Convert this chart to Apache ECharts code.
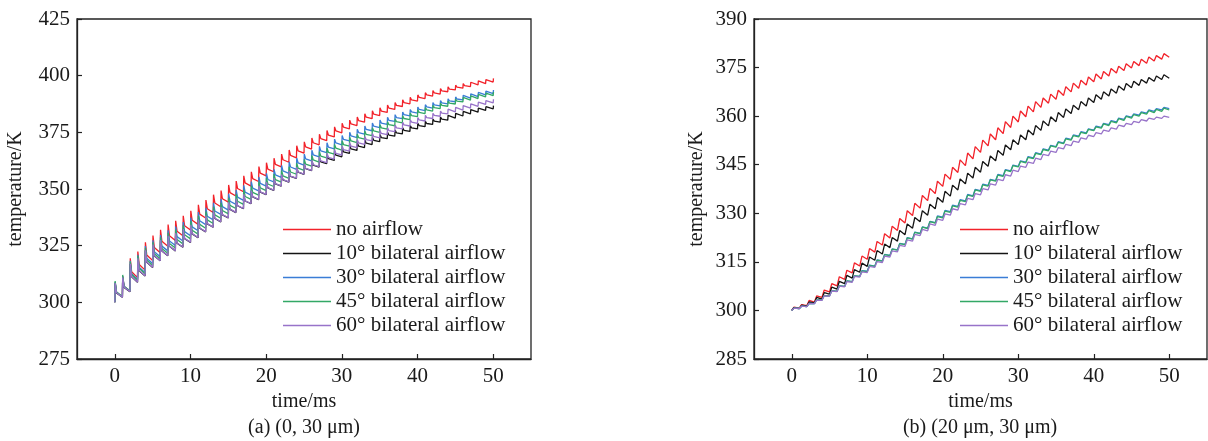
<!DOCTYPE html>
<html><head><meta charset="utf-8">
<script src="https://cdn.jsdelivr.net/npm/echarts@6/dist/echarts.min.js"></script>
<style>html,body{margin:0;padding:0;background:#fff}#c{width:1208px;height:441px}</style>
</head><body><div id="c"></div>
<script>
const seriesNames = ['no airflow','10° bilateral airflow','30° bilateral airflow','45° bilateral airflow','60° bilateral airflow'];
const seriesColors = ['#f2222a','#141414','#3a7dd6','#33a866','#9873c9'];
const xTicks = [0,10,20,30,40,50];
const captions = ['(a) (0, 30 μm)','(b) (20 μm, 30 μm)'];

// ---- Panel (a): value right after each pulse (t = 0..50), value shortly after (decay), value just before next pulse
const aPeakRed = [308.8,311.5,319.4,322.4,326.5,329.5,332,334.3,336,338.2,340.4,343,345.1,347.5,349.3,351.8,353.5,355.8,357.6,359.9,361.6,363.6,365.4,367.2,369.1,370.8,372.5,374.2,375.8,377.4,379,380.4,381.8,383.2,384.5,385.8,387,388.2,389.4,390.5,391.5,392.5,393.4,394.3,395.1,395.8,396.5,397.1,397.7,398.3,398.8];
const aMidRed = [304.4,307.0,313.5,316.7,320.9,324.2,326.9,329.4,331.4,333.8,336.2,338.9,341.3,343.8,345.7,348.4,350.2,352.7,354.6,357.0,358.8,360.9,362.9,364.8,366.8,368.6,370.4,372.2,373.8,375.6,377.3,378.7,380.2,381.7,383.0,384.4,385.7,386.9,388.1,389.3,390.4,391.5,392.4,393.3,394.1,394.9,395.6,396.3,396.9,397.5];
const aTroughRed = [302.5,305.0,310.9,314.2,318.5,321.9,324.7,327.3,329.4,331.9,334.4,337.2,339.6,342.2,344.2,346.9,348.8,351.3,353.3,355.8,357.6,359.8,361.8,363.7,365.8,367.6,369.5,371.3,373.0,374.8,376.5,378.0,379.5,381.0,382.4,383.8,385.1,386.4,387.6,388.8,389.9,391.0,391.9,392.9,393.7,394.5,395.2,395.9,396.5,397.2];
const aPeakBlack = [308.4,310.9,316.9,319.3,322.9,325.4,327.4,329.2,330.4,332.2,334.1,336.4,338.2,340.4,341.9,344.1,345.6,347.6,349.2,351.3,353.0,354.7,356.3,357.8,359.5,361.0,362.5,363.9,365.2,366.6,368.0,369.2,370.4,371.6,372.8,374.0,375.0,376.0,377.0,378.0,379.0,379.9,380.8,381.7,382.5,383.4,384.2,385.0,385.7,386.3,386.8];
const aMidBlack = [304.1,306.6,311.3,313.9,317.7,320.4,322.6,324.7,326.1,328.1,330.2,332.7,334.6,337.0,338.6,341.0,342.6,344.7,346.5,348.6,350.5,352.3,354.0,355.6,357.4,359.0,360.5,362.0,363.4,364.9,366.4,367.7,368.9,370.2,371.5,372.7,373.8,374.8,375.9,377.0,378.0,378.9,379.9,380.8,381.7,382.6,383.4,384.2,385.0,385.6];
const aTroughBlack = [302.2,304.7,308.9,311.6,315.4,318.3,320.6,322.7,324.3,326.4,328.5,331.1,333.1,335.5,337.2,339.6,341.3,343.5,345.3,347.5,349.4,351.3,353.0,354.7,356.5,358.1,359.7,361.2,362.6,364.2,365.7,367.0,368.3,369.6,370.9,372.2,373.3,374.3,375.4,376.5,377.5,378.5,379.5,380.4,381.3,382.2,383.1,383.9,384.7,385.3];
const aPeakBlue = [309.0,311.5,318.3,321.0,324.8,327.4,329.7,331.8,333.4,335.4,337.4,339.8,341.7,343.9,345.6,347.9,349.5,351.6,353.3,355.3,356.9,358.7,360.4,362.0,363.7,365.4,367.1,368.8,370.4,372.0,373.6,375.0,376.4,377.8,379.1,380.4,381.6,382.8,384.0,385.1,386.2,387.2,388.1,389.0,389.8,390.6,391.3,392.0,392.6,393.2,393.7];
const aMidBlue = [304.5,307.0,312.6,315.5,319.4,322.3,324.8,327.1,329.0,331.2,333.3,336.0,338.0,340.3,342.2,344.6,346.4,348.6,350.4,352.5,354.2,356.2,358.0,359.7,361.5,363.3,365.1,366.8,368.5,370.3,371.9,373.4,374.9,376.3,377.7,379.1,380.3,381.5,382.8,384.0,385.1,386.2,387.1,388.0,388.9,389.7,390.5,391.2,391.8,392.4];
const aTroughBlue = [302.5,305.0,310.1,313.1,317.1,320.1,322.7,325.1,327.1,329.4,331.6,334.3,336.4,338.8,340.7,343.2,345.0,347.3,349.2,351.3,353.1,355.1,356.9,358.7,360.5,362.4,364.2,366.0,367.7,369.5,371.2,372.7,374.2,375.7,377.1,378.5,379.8,381.0,382.3,383.5,384.6,385.7,386.7,387.6,388.5,389.3,390.1,390.8,391.5,392.1];
const aPeakGreen = [309.4,312.1,318.0,320.5,324.1,326.5,328.7,330.7,332.1,334.0,335.9,338.2,340.1,342.2,343.9,346.1,347.7,349.7,351.4,353.3,354.9,356.6,358.2,359.8,361.4,363.1,364.8,366.5,368.1,369.7,371.3,372.8,374.2,375.6,377.0,378.3,379.7,381.0,382.3,383.5,384.9,385.9,386.9,387.9,388.8,389.7,390.4,391.1,391.7,392.3,392.8];
const aMidGreen = [304.6,307.1,312.3,315.0,318.7,321.4,323.8,326.0,327.7,329.8,331.8,334.4,336.4,338.6,340.5,342.8,344.6,346.7,348.5,350.5,352.2,354.1,355.8,357.5,359.2,361.0,362.8,364.5,366.2,368.0,369.6,371.2,372.7,374.1,375.6,377.0,378.4,379.7,381.1,382.4,383.8,384.9,385.9,386.9,387.9,388.8,389.6,390.3,390.9,391.5];
const aTroughGreen = [302.5,305.0,309.8,312.6,316.4,319.2,321.7,324.0,325.8,328.0,330.1,332.7,334.8,337.1,339.0,341.4,343.2,345.4,347.3,349.3,351.1,353.0,354.7,356.5,358.2,360.1,361.9,363.7,365.4,367.2,368.9,370.5,372.0,373.5,375.0,376.4,377.9,379.2,380.6,381.9,383.3,384.4,385.5,386.5,387.5,388.4,389.2,389.9,390.6,391.2];
const aPeakPurple = [308.5,311.0,317.0,319.4,323.0,325.5,327.5,329.3,330.5,332.3,334.2,336.5,338.3,340.5,342.0,344.2,345.7,347.7,349.3,351.4,353.1,354.8,356.4,357.9,359.6,361.1,362.7,364.3,365.8,367.4,369.0,370.4,371.8,373.2,374.5,375.8,377.0,378.2,379.4,380.5,381.5,382.5,383.4,384.4,385.2,386.0,386.8,387.6,388.3,389.0,389.6];
const aMidPurple = [304.2,306.7,311.4,314.0,317.8,320.5,322.7,324.8,326.2,328.2,330.3,332.8,334.7,337.1,338.7,341.1,342.7,344.8,346.6,348.7,350.6,352.4,354.1,355.7,357.5,359.1,360.7,362.4,364.0,365.7,367.4,368.9,370.3,371.8,373.2,374.5,375.8,377.0,378.3,379.5,380.5,381.5,382.5,383.5,384.4,385.2,386.0,386.8,387.6,388.3];
const aTroughPurple = [302.3,304.8,309.0,311.7,315.5,318.4,320.7,322.8,324.4,326.5,328.6,331.2,333.2,335.6,337.3,339.7,341.4,343.6,345.4,347.6,349.5,351.4,353.1,354.8,356.6,358.2,359.9,361.6,363.2,365.0,366.7,368.2,369.7,371.2,372.6,374.0,375.3,376.5,377.8,379.0,380.0,381.1,382.1,383.1,384.0,384.8,385.7,386.5,387.3,388.0];

// ---- Panel (b): value at each pulse onset (t = 0..50) and top of each tooth (k = 0..49)
const bTroughRed = [300.0,300.7,301.5,302.6,304.0,305.7,307.6,309.6,311.6,313.7,315.8,318.0,320.2,322.4,324.7,327.0,329.3,331.6,333.9,336.1,338.3,340.5,342.6,344.7,346.8,348.8,350.8,352.7,354.6,356.5,358.2,359.8,361.3,362.7,364.0,365.2,366.4,367.5,368.6,369.6,370.6,371.5,372.4,373.3,374.1,374.9,375.6,376.3,377.0,377.6,378.2];
const bPeakRed = [301.0,301.8,303.1,304.5,306.3,308.3,310.4,312.4,314.7,316.8,319.1,321.3,323.7,326.0,328.4,330.8,333.1,335.5,337.7,339.9,342.1,344.2,346.5,348.6,350.6,352.6,354.5,356.4,358.3,360.0,361.6,363.1,364.5,365.6,366.8,368.0,369.1,370.2,371.1,372.1,373.0,373.8,374.7,375.4,376.2,376.9,377.6,378.3,378.7,379.3];
const bTroughBlack = [300.0,300.6,301.3,302.3,303.5,305.0,306.6,308.3,310.0,311.8,313.6,315.5,317.4,319.4,321.4,323.4,325.4,327.4,329.4,331.4,333.4,335.3,337.2,339.1,340.9,342.7,344.5,346.2,347.9,349.6,351.2,352.7,354.2,355.6,357.0,358.3,359.6,360.8,362.0,363.1,364.2,365.2,366.2,367.1,368.0,368.8,369.5,370.2,370.8,371.3,371.7];
const bPeakBlack = [300.9,301.6,302.6,304.0,305.5,307.2,309.0,310.8,312.6,314.6,316.5,318.5,320.5,322.5,324.7,326.7,328.7,330.8,332.8,334.9,336.8,338.7,340.6,342.4,344.2,346.0,347.7,349.4,351.1,352.7,354.2,355.7,357.1,358.5,359.8,361.1,362.2,363.4,364.5,365.6,366.6,367.5,368.4,369.3,370.1,370.8,371.3,371.9,372.4,372.8];
const bTroughBlue = [300.0,300.6,301.2,302.1,303.2,304.5,305.9,307.4,308.9,310.5,312.1,313.7,315.3,317.0,318.7,320.4,322.1,323.8,325.4,327.1,328.8,330.5,332.1,333.8,335.4,337.0,338.6,340.1,341.6,343.1,344.5,345.8,347.1,348.3,349.5,350.6,351.7,352.8,353.8,354.8,355.7,356.5,357.4,358.2,359.0,359.7,360.3,360.9,361.5,361.9,362.3];
const bPeakBlue = [300.7,301.3,302.2,303.3,304.6,306.1,307.6,309.1,310.7,312.3,314.0,315.6,317.3,319.0,320.7,322.5,324.2,325.8,327.5,329.2,330.9,332.5,334.2,335.8,337.4,339.0,340.5,342.0,343.5,344.9,346.2,347.5,348.7,349.9,351.0,352.1,353.2,354.2,355.2,356.1,356.9,357.8,358.6,359.4,360.1,360.7,361.3,361.9,362.3,362.7];
const bTroughGreen = [300.0,300.6,301.2,302.1,303.2,304.5,305.9,307.4,308.9,310.5,312.0,313.6,315.2,316.9,318.6,320.3,322.0,323.7,325.3,327.0,328.6,330.3,331.9,333.6,335.2,336.8,338.4,339.9,341.4,342.9,344.3,345.6,346.9,348.1,349.3,350.4,351.5,352.6,353.6,354.6,355.5,356.3,357.1,357.9,358.7,359.4,360.0,360.6,361.1,361.5,361.9];
const bPeakGreen = [300.7,301.3,302.2,303.3,304.6,306.1,307.6,309.1,310.7,312.2,313.9,315.5,317.2,318.9,320.6,322.4,324.1,325.7,327.4,329.0,330.7,332.3,334.0,335.6,337.2,338.8,340.3,341.8,343.3,344.7,346.0,347.3,348.5,349.7,350.8,351.9,353.0,354.0,355.0,355.9,356.7,357.6,358.4,359.2,359.9,360.5,361.1,361.7,362.1,362.5];
const bTroughPurple = [300.0,300.6,301.2,302.1,303.1,304.4,305.8,307.3,308.7,310.3,311.7,313.3,314.8,316.5,318.1,319.8,321.4,323.1,324.6,326.3,327.8,329.4,331.0,332.6,334.2,335.7,337.2,338.7,340.1,341.5,342.9,344.2,345.4,346.6,347.8,348.8,349.9,350.9,351.9,352.9,353.7,354.5,355.3,356.0,356.8,357.4,358.0,358.5,359.0,359.3,359.6];
const bPeakPurple = [300.7,301.3,302.2,303.2,304.5,306.0,307.5,308.9,310.5,311.9,313.6,315.1,316.8,318.4,320.1,321.8,323.5,325.0,326.7,328.2,329.8,331.4,333.0,334.6,336.1,337.6,339.1,340.5,341.9,343.3,344.6,345.8,347.0,348.2,349.2,350.3,351.3,352.3,353.3,354.1,354.9,355.7,356.4,357.2,357.8,358.4,358.9,359.4,359.7,360.0];

const aPeaks = [aPeakRed,aPeakBlack,aPeakBlue,aPeakGreen,aPeakPurple];
const aMids = [aMidRed,aMidBlack,aMidBlue,aMidGreen,aMidPurple];
const aTroughs = [aTroughRed,aTroughBlack,aTroughBlue,aTroughGreen,aTroughPurple];
const bPeaks = [bPeakRed,bPeakBlack,bPeakBlue,bPeakGreen,bPeakPurple];
const bTroughs = [bTroughRed,bTroughBlack,bTroughBlue,bTroughGreen,bTroughPurple];

function buildA(peaks, mids, troughs){
  const pts = [[0,300]];
  for (let k=0;k<peaks.length;k++){
    if (k>0) pts.push([k, troughs[k-1]]);
    pts.push([k+0.04, peaks[k]]);
    if (k<mids.length) pts.push([k+0.22, mids[k]]);
  }
  return pts;
}
function buildB(peaks, troughs){
  const pts = [];
  for (let k=0;k<troughs.length;k++){
    pts.push([k, troughs[k]]);
    if (k<peaks.length) pts.push([k+0.3, peaks[k]]);
  }
  return pts;
}

const FONT = '"Liberation Serif","Times New Roman",serif';
const TXT = '#1a1a1a';
function xAx(idx){
  return {type:'value', gridIndex:idx, min:-5, max:55,
    name:'time/ms', nameLocation:'middle', nameGap:33,
    nameTextStyle:{fontFamily:FONT,fontSize:20,color:TXT},
    axisLine:{onZero:false,lineStyle:{color:'#222',width:1.3}},
    axisTick:{inside:true,length:5,customValues:xTicks,lineStyle:{color:'#222',width:1.2}},
    axisLabel:{customValues:xTicks,fontFamily:FONT,fontSize:21,color:TXT,margin:7},
    splitLine:{show:false}};
}
function yAx(idx,min,max,step){
  return {type:'value', gridIndex:idx, min:min, max:max, interval:step,
    name:'temperature/K', nameLocation:'middle', nameGap:idx===0?51:47,
    nameTextStyle:{fontFamily:FONT,fontSize:20,color:TXT},
    axisLine:{show:true,onZero:false,lineStyle:{color:'#222',width:1.3}},
    axisTick:{show:true,inside:true,length:5,lineStyle:{color:'#222',width:1.2}},
    axisLabel:{fontFamily:FONT,fontSize:21,color:TXT,margin:7},
    splitLine:{show:false}};
}
const series = [];
for (let i=0;i<5;i++){
  series.push({name:seriesNames[i], type:'line', xAxisIndex:0, yAxisIndex:0, symbol:'none', showSymbol:false,
    lineStyle:{width:1.3,color:seriesColors[i]}, itemStyle:{color:seriesColors[i]},
    data:buildA(aPeaks[i],aMids[i],aTroughs[i]), animation:false});
}
for (let i=0;i<5;i++){
  series.push({name:seriesNames[i], type:'line', xAxisIndex:1, yAxisIndex:1, symbol:'none', showSymbol:false,
    lineStyle:{width:1.3,color:seriesColors[i]}, itemStyle:{color:seriesColors[i]},
    data:buildB(bPeaks[i],bTroughs[i]), animation:false});
}
function legend(left){
  return {show:true, orient:'vertical', left:left, top:214, icon:'rect', itemWidth:48, itemHeight:1.6, itemGap:3,
    data:seriesNames, selectedMode:false,
    textStyle:{fontFamily:FONT,fontSize:21,color:TXT,lineHeight:21}};
}
const chart = echarts.init(document.getElementById('c'), null, {renderer:'canvas'});
chart.setOption({
  animation:false,
  backgroundColor:'#fff',
  grid:[
    {left:77, top:19, width:454, height:340, show:true, borderColor:'#222', borderWidth:1.3, backgroundColor:'transparent'},
    {left:754, top:19, width:453, height:340, show:true, borderColor:'#222', borderWidth:1.3, backgroundColor:'transparent'}
  ],
  xAxis:[xAx(0), xAx(1)],
  yAxis:[yAx(0,275,425,25), yAx(1,285,390,15)],
  legend:[legend(278), legend(955)],
  graphic:[
    {type:'text', x:304, y:428, style:{text:captions[0], font:'20px '+FONT, fill:TXT, textAlign:'center', textVerticalAlign:'middle'}},
    {type:'text', x:980, y:428, style:{text:captions[1], font:'20px '+FONT, fill:TXT, textAlign:'center', textVerticalAlign:'middle'}}
  ],
  series:series
});
</script></body></html>
